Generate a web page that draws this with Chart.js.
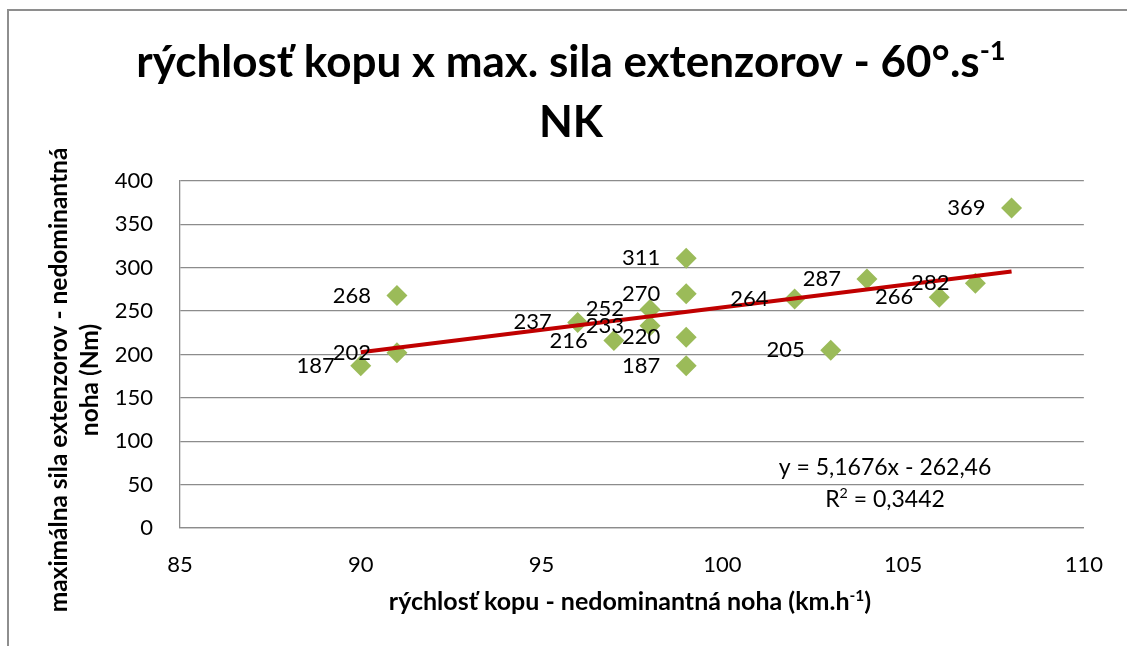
<!DOCTYPE html>
<html lang="sk">
<head>
<meta charset="UTF-8">
<title>rýchlosť kopu x max. sila extenzorov - NK</title>
<script src="https://cdn.jsdelivr.net/npm/chart.js@4.4.1/dist/chart.umd.min.js"></script>
<style>
  body { margin: 0; background: #fff; }
  /* ram grafu, presahuje vpravo a dole */
  #frame { position: absolute; left: 7px; top: 9px; width: 1200px; height: 700px;
           border-left: 2px solid #8e8e8e; border-top: 2px solid #8e8e8e; }
  #wrap { position: absolute; left: 0; top: 0; width: 1127px; height: 646px; }
</style>
</head>
<body>
<div id="frame"></div>
<div id="wrap"><canvas id="chart"></canvas></div>

<script>
// rychlost kopu (km/h) a max. sila extenzorov (Nm)
const speed = [90, 91, 91, 96, 97, 98, 98, 99, 99, 99, 99, 102, 103, 104, 106, 107, 108];
const force = [187, 202, 268, 237, 216, 252, 233, 311, 270, 220, 187, 264, 205, 287, 266, 282, 369];

// linearny trend (koncove body)
const trendX = [90, 108];
const trendY = [202.6, 295.6];
const trendEq = 'y = 5,1676x - 262,46';
const trendR2 = ['R', '2', ' = 0,3442'];

const xMin = 85, xMax = 110, xStep = 5;
const yMin = 0, yMax = 400, yStep = 50;

const FONT = 'Lato, "Open Sans", sans-serif';
const gridColor = '#8c8c8c';

// text so superskriptom
function drawParts(ctx, parts, cx, baseY, size, bold) {
  const w = bold ? 'bold ' : '';
  let total = 0;
  parts.forEach(p => {
    ctx.font = w + (p.sup ? size * 0.62 : size) + 'px ' + FONT;
    p.w = ctx.measureText(p.t).width;
    total += p.w;
  });
  let x = cx - total / 2;
  ctx.textAlign = 'left';
  ctx.textBaseline = 'alphabetic';
  parts.forEach(p => {
    ctx.font = w + (p.sup ? size * 0.62 : size) + 'px ' + FONT;
    ctx.fillText(p.t, x, p.sup ? baseY - size * 0.38 : baseY);
    x += p.w;
  });
}

const textPlugin = {
  id: 'texts',
  afterDatasetsDraw(chart) {
    const ctx = chart.ctx;
    const xs = chart.scales.x, ys = chart.scales.y;
    ctx.save();
    ctx.fillStyle = '#000';

    // popisky bodov vlavo
    const meta = chart.getDatasetMeta(1);
    ctx.font = '22px ' + FONT;
    ctx.textAlign = 'right';
    ctx.textBaseline = 'middle';
    meta.data.forEach((pt, i) => {
      ctx.fillText(String(force[i]), pt.x - 26, pt.y);
    });

    // rovnica trendu
    const ex = xs.getPixelForValue(104.5);
    drawParts(ctx, [{t: trendEq}], ex, ys.getPixelForValue(61), 23, false);
    drawParts(ctx, [{t: trendR2[0]}, {t: trendR2[1], sup: true}, {t: trendR2[2]}], ex, ys.getPixelForValue(24), 23, false);
    ctx.restore();
  },
  afterDraw(chart) {
    const ctx = chart.ctx;
    ctx.save();
    ctx.fillStyle = '#000';
    // nadpis
    drawParts(ctx, [{t: 'rýchlosť kopu x max. sila extenzorov - 60°.s'}, {t: '-1', sup: true}], 571, 77, 44, true);
    drawParts(ctx, [{t: 'NK'}], 571, 137, 44, true);
    // nazov osi x
    drawParts(ctx, [{t: 'rýchlosť kopu - nedominantná noha (km.h'}, {t: '-1', sup: true}, {t: ')'}], 630, 610, 25, true);
    // nazov osi y
    ctx.translate(0, 380);
    ctx.rotate(-Math.PI / 2);
    drawParts(ctx, [{t: 'maximálna sila extenzorov - nedominantná'}], 0, 67, 24.5, true);
    drawParts(ctx, [{t: 'noha (Nm)'}], 0, 98, 24.5, true);
    ctx.restore();
  }
};

const config = {
  type: 'scatter',
  data: {
    datasets: [{
      label: 'trend',
      data: trendX.map((x, i) => ({x: x, y: trendY[i]})),
      showLine: true,
      borderColor: '#C00000',
      borderWidth: 4,
      pointRadius: 0,
      order: 1
    }, {
      label: 'NK',
      data: speed.map((x, i) => ({x: x, y: force[i]})),
      pointStyle: 'rectRot',
      pointRadius: 10.5,
      backgroundColor: '#9BBB59',
      borderColor: '#9BBB59',
      borderWidth: 0,
      order: 2
    }]
  },
  options: {
    responsive: true,
    maintainAspectRatio: false,
    animation: false,
    layout: { padding: { left: 0, top: 181, right: 39, bottom: 0 } },
    plugins: { legend: { display: false }, tooltip: { enabled: false } },
    scales: {
      x: {
        type: 'linear', min: xMin, max: xMax,
        afterFit: s => { s.height = 118; },
        grid: { display: false, drawTicks: false },
        border: { display: true, color: gridColor, width: 1.3 },
        ticks: { stepSize: xStep, padding: 24, color: '#000', font: { family: FONT, size: 22 } }
      },
      y: {
        type: 'linear', min: yMin, max: yMax,
        afterFit: s => { s.width = 180; },
        grid: { color: gridColor, lineWidth: 1.3, drawTicks: false },
        border: { display: true, color: gridColor, width: 1.3 },
        ticks: { stepSize: yStep, padding: 27, color: '#000', font: { family: FONT, size: 22 } }
      }
    }
  },
  plugins: [textPlugin]
};

new Chart(document.getElementById('chart'), config);
</script>
</body>
</html>
